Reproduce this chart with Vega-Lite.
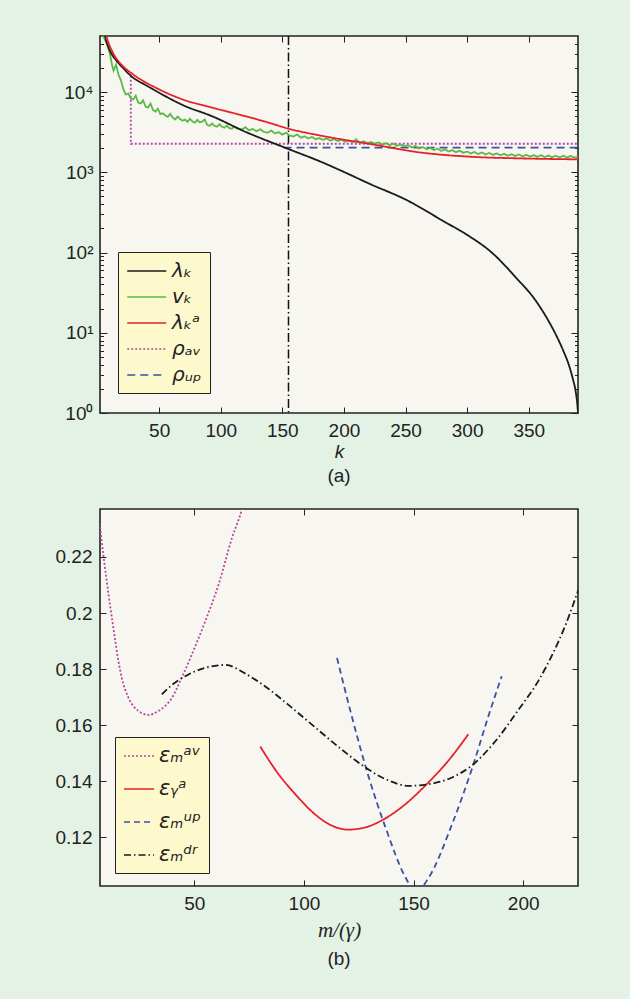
{
  "$schema": "https://vega.github.io/schema/vega-lite/v6.json",
  "background": "#e4f2e6",
  "padding": {"left": 54, "top": 33, "right": 50, "bottom": 39},
  "datasets": {
    "a_rule": [{"k": 155}],
    "a_main": [
      {"k": 2, "v": 100000, "s": "λₖ"},{"k": 3, "v": 85000, "s": "λₖ"},{"k": 6, "v": 50000, "s": "λₖ"},{"k": 10, "v": 33000, "s": "λₖ"},{"k": 15, "v": 25000, "s": "λₖ"},{"k": 20, "v": 20500, "s": "λₖ"},{"k": 28, "v": 15500, "s": "λₖ"},{"k": 40, "v": 12000, "s": "λₖ"},{"k": 50, "v": 9800, "s": "λₖ"},{"k": 70, "v": 6800, "s": "λₖ"},{"k": 93, "v": 5000, "s": "λₖ"},{"k": 120, "v": 3200, "s": "λₖ"},{"k": 155, "v": 1950, "s": "λₖ"},{"k": 182, "v": 1340, "s": "λₖ"},{"k": 200, "v": 1010, "s": "λₖ"},{"k": 222, "v": 706, "s": "λₖ"},{"k": 250, "v": 458, "s": "λₖ"},{"k": 282, "v": 240, "s": "λₖ"},{"k": 300, "v": 166, "s": "λₖ"},{"k": 320, "v": 100, "s": "λₖ"},{"k": 340, "v": 48, "s": "λₖ"},{"k": 355, "v": 26, "s": "λₖ"},{"k": 365, "v": 15, "s": "λₖ"},{"k": 372, "v": 9.5, "s": "λₖ"},{"k": 378, "v": 6, "s": "λₖ"},{"k": 383, "v": 3.8, "s": "λₖ"},{"k": 386, "v": 2.6, "s": "λₖ"},{"k": 388, "v": 1.9, "s": "λₖ"},{"k": 389.5, "v": 1.26, "s": "λₖ"},{"k": 390, "v": 1.0, "s": "λₖ"},
      {"k": 2, "v": 150000, "s": "λₖᵃ"},{"k": 5, "v": 70000, "s": "λₖᵃ"},{"k": 7.5, "v": 48000, "s": "λₖᵃ"},{"k": 12, "v": 32000, "s": "λₖᵃ"},{"k": 20, "v": 21500, "s": "λₖᵃ"},{"k": 28, "v": 17000, "s": "λₖᵃ"},{"k": 50, "v": 10800, "s": "λₖᵃ"},{"k": 70, "v": 8000, "s": "λₖᵃ"},{"k": 93, "v": 6400, "s": "λₖᵃ"},{"k": 112, "v": 5400, "s": "λₖᵃ"},{"k": 139, "v": 4150, "s": "λₖᵃ"},{"k": 155, "v": 3500, "s": "λₖᵃ"},{"k": 182, "v": 2850, "s": "λₖᵃ"},{"k": 223, "v": 2230, "s": "λₖᵃ"},{"k": 263, "v": 1760, "s": "λₖᵃ"},{"k": 304, "v": 1560, "s": "λₖᵃ"},{"k": 344, "v": 1490, "s": "λₖᵃ"},{"k": 390, "v": 1450, "s": "λₖᵃ"}
    ],
    "a_rho": [
      {"k": 27, "v": 16000, "s": "ρₐᵥ"},{"k": 27, "v": 2270, "s": "ρₐᵥ"},{"k": 390, "v": 2270, "s": "ρₐᵥ"},
      {"k": 151, "v": 2030, "s": "ρᵤₚ"},{"k": 390, "v": 2030, "s": "ρᵤₚ"},
      {"k": 2, "v": 62000, "s": "vₖ"},{"k": 4, "v": 52000, "s": "vₖ"},{"k": 6, "v": 45000, "s": "vₖ"},{"k": 8, "v": 38000, "s": "vₖ"},{"k": 10, "v": 30000, "s": "vₖ"},{"k": 12, "v": 21000, "s": "vₖ"},{"k": 13, "v": 18500, "s": "vₖ"},{"k": 15, "v": 22000, "s": "vₖ"},{"k": 17, "v": 16500, "s": "vₖ"},{"k": 19, "v": 14000, "s": "vₖ"},{"k": 21, "v": 10800, "s": "vₖ"},{"k": 23, "v": 9300, "s": "vₖ"},{"k": 25, "v": 9600, "s": "vₖ"},{"k": 27, "v": 8300, "s": "vₖ"},{"k": 29, "v": 8100, "s": "vₖ"},{"k": 31, "v": 9000, "s": "vₖ"},{"k": 33, "v": 7400, "s": "vₖ"},{"k": 35, "v": 7200, "s": "vₖ"},{"k": 37, "v": 7900, "s": "vₖ"},{"k": 39, "v": 6600, "s": "vₖ"},{"k": 41, "v": 6400, "s": "vₖ"},{"k": 43, "v": 7200, "s": "vₖ"},{"k": 45, "v": 6000, "s": "vₖ"},{"k": 47, "v": 5700, "s": "vₖ"},{"k": 49, "v": 6200, "s": "vₖ"},{"k": 51, "v": 5300, "s": "vₖ"},{"k": 53, "v": 5450, "s": "vₖ"},{"k": 55, "v": 5100, "s": "vₖ"},{"k": 57, "v": 4900, "s": "vₖ"},{"k": 59, "v": 5350, "s": "vₖ"},{"k": 61, "v": 4800, "s": "vₖ"},{"k": 63, "v": 4550, "s": "vₖ"},{"k": 65, "v": 4950, "s": "vₖ"},{"k": 67, "v": 4600, "s": "vₖ"},{"k": 69, "v": 4400, "s": "vₖ"},{"k": 71, "v": 4550, "s": "vₖ"},{"k": 73, "v": 4250, "s": "vₖ"},{"k": 75, "v": 4650, "s": "vₖ"},{"k": 77, "v": 4300, "s": "vₖ"},{"k": 79, "v": 4150, "s": "vₖ"},{"k": 81, "v": 4500, "s": "vₖ"},{"k": 83, "v": 4200, "s": "vₖ"},{"k": 85, "v": 4300, "s": "vₖ"},{"k": 87, "v": 4550, "s": "vₖ"},{"k": 89, "v": 3900, "s": "vₖ"},{"k": 91, "v": 3800, "s": "vₖ"},{"k": 93, "v": 4050, "s": "vₖ"},{"k": 95, "v": 3800, "s": "vₖ"},{"k": 97, "v": 3700, "s": "vₖ"},{"k": 99, "v": 3980, "s": "vₖ"},{"k": 101, "v": 3700, "s": "vₖ"},{"k": 103, "v": 3600, "s": "vₖ"},{"k": 105, "v": 3830, "s": "vₖ"},{"k": 107, "v": 3550, "s": "vₖ"},{"k": 109, "v": 3500, "s": "vₖ"},{"k": 111, "v": 3720, "s": "vₖ"},{"k": 113, "v": 3530, "s": "vₖ"},{"k": 115, "v": 3480, "s": "vₖ"},{"k": 117, "v": 3400, "s": "vₖ"},{"k": 120, "v": 3650, "s": "vₖ"},{"k": 123, "v": 3340, "s": "vₖ"},{"k": 126, "v": 3470, "s": "vₖ"},{"k": 129, "v": 3260, "s": "vₖ"},{"k": 132, "v": 3440, "s": "vₖ"},{"k": 135, "v": 3190, "s": "vₖ"},{"k": 138, "v": 3110, "s": "vₖ"},{"k": 141, "v": 3320, "s": "vₖ"},{"k": 144, "v": 3050, "s": "vₖ"},{"k": 147, "v": 3170, "s": "vₖ"},{"k": 150, "v": 2950, "s": "vₖ"},{"k": 153, "v": 3110, "s": "vₖ"},{"k": 156, "v": 2870, "s": "vₖ"},{"k": 159, "v": 2790, "s": "vₖ"},{"k": 162, "v": 2960, "s": "vₖ"},{"k": 165, "v": 2700, "s": "vₖ"},{"k": 168, "v": 2810, "s": "vₖ"},{"k": 171, "v": 2640, "s": "vₖ"},{"k": 174, "v": 2760, "s": "vₖ"},{"k": 177, "v": 2580, "s": "vₖ"},{"k": 180, "v": 2670, "s": "vₖ"},{"k": 183, "v": 2540, "s": "vₖ"},{"k": 186, "v": 2640, "s": "vₖ"},{"k": 189, "v": 2480, "s": "vₖ"},{"k": 192, "v": 2600, "s": "vₖ"},{"k": 195, "v": 2450, "s": "vₖ"},{"k": 198, "v": 2560, "s": "vₖ"},{"k": 201, "v": 2400, "s": "vₖ"},{"k": 204, "v": 2500, "s": "vₖ"},{"k": 207, "v": 2370, "s": "vₖ"},{"k": 210, "v": 2580, "s": "vₖ"},{"k": 213, "v": 2330, "s": "vₖ"},{"k": 216, "v": 2440, "s": "vₖ"},{"k": 219, "v": 2310, "s": "vₖ"},{"k": 222, "v": 2390, "s": "vₖ"},{"k": 225, "v": 2270, "s": "vₖ"},{"k": 228, "v": 2360, "s": "vₖ"},{"k": 231, "v": 2220, "s": "vₖ"},{"k": 234, "v": 2310, "s": "vₖ"},{"k": 237, "v": 2180, "s": "vₖ"},{"k": 240, "v": 2280, "s": "vₖ"},{"k": 243, "v": 2140, "s": "vₖ"},{"k": 246, "v": 2220, "s": "vₖ"},{"k": 249, "v": 2100, "s": "vₖ"},{"k": 252, "v": 2180, "s": "vₖ"},{"k": 255, "v": 2040, "s": "vₖ"},{"k": 258, "v": 2130, "s": "vₖ"},{"k": 261, "v": 1980, "s": "vₖ"},{"k": 264, "v": 2070, "s": "vₖ"},{"k": 267, "v": 1940, "s": "vₖ"},{"k": 270, "v": 2010, "s": "vₖ"},{"k": 273, "v": 1900, "s": "vₖ"},{"k": 276, "v": 1970, "s": "vₖ"},{"k": 279, "v": 1850, "s": "vₖ"},{"k": 282, "v": 1930, "s": "vₖ"},{"k": 285, "v": 1820, "s": "vₖ"},{"k": 288, "v": 1890, "s": "vₖ"},{"k": 291, "v": 1780, "s": "vₖ"},{"k": 294, "v": 1860, "s": "vₖ"},{"k": 297, "v": 1750, "s": "vₖ"},{"k": 300, "v": 1820, "s": "vₖ"},{"k": 303, "v": 1720, "s": "vₖ"},{"k": 306, "v": 1790, "s": "vₖ"},{"k": 309, "v": 1690, "s": "vₖ"},{"k": 312, "v": 1770, "s": "vₖ"},{"k": 315, "v": 1670, "s": "vₖ"},{"k": 318, "v": 1740, "s": "vₖ"},{"k": 321, "v": 1650, "s": "vₖ"},{"k": 324, "v": 1720, "s": "vₖ"},{"k": 327, "v": 1630, "s": "vₖ"},{"k": 330, "v": 1700, "s": "vₖ"},{"k": 333, "v": 1610, "s": "vₖ"},{"k": 336, "v": 1680, "s": "vₖ"},{"k": 339, "v": 1600, "s": "vₖ"},{"k": 342, "v": 1670, "s": "vₖ"},{"k": 345, "v": 1580, "s": "vₖ"},{"k": 348, "v": 1650, "s": "vₖ"},{"k": 351, "v": 1570, "s": "vₖ"},{"k": 354, "v": 1640, "s": "vₖ"},{"k": 357, "v": 1560, "s": "vₖ"},{"k": 360, "v": 1630, "s": "vₖ"},{"k": 363, "v": 1550, "s": "vₖ"},{"k": 366, "v": 1620, "s": "vₖ"},{"k": 369, "v": 1540, "s": "vₖ"},{"k": 372, "v": 1610, "s": "vₖ"},{"k": 375, "v": 1530, "s": "vₖ"},{"k": 378, "v": 1610, "s": "vₖ"},{"k": 381, "v": 1530, "s": "vₖ"},{"k": 384, "v": 1600, "s": "vₖ"},{"k": 387, "v": 1520, "s": "vₖ"},{"k": 390, "v": 1570, "s": "vₖ"}
    ],
    "b1": [
      {"m": 6.8, "e": 0.2321, "s": "εₘᵃᵛ"},{"m": 8.6, "e": 0.2203, "s": "εₘᵃᵛ"},{"m": 10.9, "e": 0.2066, "s": "εₘᵃᵛ"},{"m": 13.1, "e": 0.1947, "s": "εₘᵃᵛ"},{"m": 15.4, "e": 0.1829, "s": "εₘᵃᵛ"},{"m": 16.9, "e": 0.177, "s": "εₘᵃᵛ"},{"m": 20, "e": 0.1698, "s": "εₘᵃᵛ"},{"m": 24.5, "e": 0.1651, "s": "εₘᵃᵛ"},{"m": 29.1, "e": 0.1637, "s": "εₘᵃᵛ"},{"m": 33.7, "e": 0.1651, "s": "εₘᵃᵛ"},{"m": 39.8, "e": 0.1698, "s": "εₘᵃᵛ"},{"m": 44.3, "e": 0.177, "s": "εₘᵃᵛ"},{"m": 48.5, "e": 0.1845, "s": "εₘᵃᵛ"},{"m": 55, "e": 0.1971, "s": "εₘᵃᵛ"},{"m": 61.1, "e": 0.2102, "s": "εₘᵃᵛ"},{"m": 67.2, "e": 0.2268, "s": "εₘᵃᵛ"},{"m": 71.7, "e": 0.2369, "s": "εₘᵃᵛ"},{"m": 72.5, "e": 0.2392, "s": "εₘᵃᵛ"},
      {"m": 80.1, "e": 0.1524, "s": "εᵧᵃ"},{"m": 88, "e": 0.143, "s": "εᵧᵃ"},{"m": 96, "e": 0.1355, "s": "εᵧᵃ"},{"m": 104, "e": 0.129, "s": "εᵧᵃ"},{"m": 112, "e": 0.1245, "s": "εᵧᵃ"},{"m": 120, "e": 0.1228, "s": "εᵧᵃ"},{"m": 128, "e": 0.1236, "s": "εᵧᵃ"},{"m": 136, "e": 0.1263, "s": "εᵧᵃ"},{"m": 146, "e": 0.1317, "s": "εᵧᵃ"},{"m": 156, "e": 0.139, "s": "εᵧᵃ"},{"m": 166, "e": 0.1475, "s": "εᵧᵃ"},{"m": 175, "e": 0.1568, "s": "εᵧᵃ"}
    ],
    "b2": [
      {"m": 115.1, "e": 0.184, "s": "εₘᵘᵖ"},{"m": 122, "e": 0.1627, "s": "εₘᵘᵖ"},{"m": 129.6, "e": 0.1414, "s": "εₘᵘᵖ"},{"m": 137.2, "e": 0.1236, "s": "εₘᵘᵖ"},{"m": 146.3, "e": 0.1058, "s": "εₘᵘᵖ"},{"m": 151, "e": 0.1005, "s": "εₘᵘᵖ"},{"m": 157, "e": 0.1058, "s": "εₘᵘᵖ"},{"m": 167.6, "e": 0.1248, "s": "εₘᵘᵖ"},{"m": 176.8, "e": 0.1449, "s": "εₘᵘᵖ"},{"m": 184.4, "e": 0.1639, "s": "εₘᵘᵖ"},{"m": 190.2, "e": 0.1775, "s": "εₘᵘᵖ"},
      {"m": 35.2, "e": 0.171, "s": "εₘᵈʳ"},{"m": 40, "e": 0.1745, "s": "εₘᵈʳ"},{"m": 45.9, "e": 0.1775, "s": "εₘᵈʳ"},{"m": 55, "e": 0.1805, "s": "εₘᵈʳ"},{"m": 64.2, "e": 0.1815, "s": "εₘᵈʳ"},{"m": 73.3, "e": 0.1784, "s": "εₘᵈʳ"},{"m": 82.4, "e": 0.1738, "s": "εₘᵈʳ"},{"m": 94.6, "e": 0.1662, "s": "εₘᵈʳ"},{"m": 105.2, "e": 0.1592, "s": "εₘᵈʳ"},{"m": 115.9, "e": 0.1522, "s": "εₘᵈʳ"},{"m": 126.5, "e": 0.1458, "s": "εₘᵈʳ"},{"m": 137.2, "e": 0.1408, "s": "εₘᵈʳ"},{"m": 147.9, "e": 0.1384, "s": "εₘᵈʳ"},{"m": 157, "e": 0.139, "s": "εₘᵈʳ"},{"m": 167.6, "e": 0.1414, "s": "εₘᵈʳ"},{"m": 176.8, "e": 0.1458, "s": "εₘᵈʳ"},{"m": 187.4, "e": 0.1544, "s": "εₘᵈʳ"},{"m": 198.1, "e": 0.1658, "s": "εₘᵈʳ"},{"m": 207.2, "e": 0.1762, "s": "εₘᵈʳ"},{"m": 213.3, "e": 0.1852, "s": "εₘᵈʳ"},{"m": 219.4, "e": 0.1959, "s": "εₘᵈʳ"},{"m": 224.7, "e": 0.2072, "s": "εₘᵈʳ"},{"m": 226, "e": 0.21, "s": "εₘᵈʳ"}
    ]
  },
  "vconcat": [
    {
      "width": 478,
      "height": 377,
      "title": {"text": "(a)", "orient": "bottom", "offset": 6},
      "layer": [
        {
          "data": {"name": "a_rule"},
          "mark": {"type": "rule", "color": "#111", "strokeWidth": 1.5, "strokeDash": [9, 3, 1.5, 3]},
          "encoding": {
            "x": {"field": "k", "type": "quantitative", "scale": {"domain": [2, 390], "nice": false, "zero": false},
              "axis": {"orient": "top", "values": [50, 100, 150, 200, 250, 300, 350], "labels": false, "title": null}}
          }
        },
        {
          "data": {"name": "a_rho"},
          "mark": {"type": "line", "strokeWidth": 1.8, "clip": true},
          "encoding": {
            "x": {"field": "k", "type": "quantitative", "axis": null},
            "y": {"field": "v", "type": "quantitative", "scale": {"type": "log", "domain": [1, 50000], "nice": false},
              "axis": {"orient": "right", "labels": false, "title": null,
                "values": [1,2,3,4,5,6,7,8,9,10,20,30,40,50,60,70,80,90,100,200,300,400,500,600,700,800,900,1000,2000,3000,4000,5000,6000,7000,8000,9000,10000,20000,30000,40000],
                "tickSize": {"condition": {"test": "indexof([1,10,100,1000,10000], datum.value) >= 0", "value": -7}, "value": -3.5}}},
            "color": {"field": "s", "type": "nominal",
              "scale": {"domain": ["λₖ", "vₖ", "λₖᵃ", "ρₐᵥ", "ρᵤₚ"], "range": ["#1a1a1a", "#5cb946", "#e8202a", "#b548a2", "#3852a4"]},
              "legend": {"orient": "none", "legendX": 18, "legendY": 216, "title": null, "symbolType": "M-1,0H3", "symbolSize": 380, "symbolStrokeWidth": 1.6, "labelFontSize": 20, "labelFont": "DejaVu Sans", "labelFontStyle": "italic", "labelColor": "#222", "fillColor": "#fdf9cc", "strokeColor": "#222", "padding": 8, "rowPadding": 5, "labelOffset": 24}},
            "strokeDash": {"field": "s", "type": "nominal",
              "scale": {"domain": ["λₖ", "vₖ", "λₖᵃ", "ρₐᵥ", "ρᵤₚ"], "range": [[1, 0], [1, 0], [1, 0], [2, 2], [8, 5]]},
              "legend": {"orient": "none", "legendX": 18, "legendY": 216, "title": null, "symbolType": "M-1,0H3", "symbolSize": 380, "symbolStrokeWidth": 1.6, "labelFontSize": 20, "labelFont": "DejaVu Sans", "labelFontStyle": "italic", "labelColor": "#222", "fillColor": "#fdf9cc", "strokeColor": "#222", "padding": 8, "rowPadding": 5, "labelOffset": 24}}
          }
        },
        {
          "data": {"name": "a_main"},
          "mark": {"type": "line", "strokeWidth": 1.8, "clip": true, "interpolate": "monotone"},
          "encoding": {
            "x": {"field": "k", "type": "quantitative", "scale": {"domain": [2, 390], "nice": false, "zero": false},
              "axis": {"orient": "bottom", "values": [50, 100, 150, 200, 250, 300, 350], "title": "k", "titleFontStyle": "italic"}},
            "y": {"field": "v", "type": "quantitative", "scale": {"type": "log", "domain": [1, 50000], "nice": false},
              "axis": {"orient": "left", "title": null, "labelOverlap": false, "labelFlush": false,
                "values": [1,2,3,4,5,6,7,8,9,10,20,30,40,50,60,70,80,90,100,200,300,400,500,600,700,800,900,1000,2000,3000,4000,5000,6000,7000,8000,9000,10000,20000,30000,40000],
                "labelExpr": "datum.value==1?'10⁰':datum.value==10?'10¹':datum.value==100?'10²':datum.value==1000?'10³':datum.value==10000?'10⁴':''",
                "tickSize": {"condition": {"test": "indexof([1,10,100,1000,10000], datum.value) >= 0", "value": -7}, "value": -3.5}}},
            "color": {"field": "s", "type": "nominal",
              "scale": {"domain": ["λₖ", "vₖ", "λₖᵃ", "ρₐᵥ", "ρᵤₚ"], "range": ["#1a1a1a", "#5cb946", "#e8202a", "#b548a2", "#3852a4"]},
              "legend": {"orient": "none", "legendX": 18, "legendY": 216, "title": null, "symbolType": "M-1,0H3", "symbolSize": 380, "symbolStrokeWidth": 1.6, "labelFontSize": 20, "labelFont": "DejaVu Sans", "labelFontStyle": "italic", "labelColor": "#222", "fillColor": "#fdf9cc", "strokeColor": "#222", "padding": 8, "rowPadding": 5, "labelOffset": 24}},
            "strokeDash": {"field": "s", "type": "nominal",
              "scale": {"domain": ["λₖ", "vₖ", "λₖᵃ", "ρₐᵥ", "ρᵤₚ"], "range": [[1, 0], [1, 0], [1, 0], [2, 2], [8, 5]]},
              "legend": {"orient": "none", "legendX": 18, "legendY": 216, "title": null, "symbolType": "M-1,0H3", "symbolSize": 380, "symbolStrokeWidth": 1.6, "labelFontSize": 20, "labelFont": "DejaVu Sans", "labelFontStyle": "italic", "labelColor": "#222", "fillColor": "#fdf9cc", "strokeColor": "#222", "padding": 8, "rowPadding": 5, "labelOffset": 24}}
          }
        }
      ]
    },
    {
      "width": 478,
      "height": 377,
      "title": {"text": "(b)", "orient": "bottom", "offset": 10},
      "layer": [
        {
          "data": {"name": "b1"},
          "mark": {"type": "line", "strokeWidth": 1.8, "clip": true, "interpolate": "monotone"},
          "encoding": {
            "x": {"field": "m", "type": "quantitative", "scale": {"domain": [7, 225], "nice": false, "zero": false},
              "axis": {"orient": "bottom", "values": [50, 100, 150, 200], "title": "m/(γ)", "titleFont": "Liberation Serif", "titleFontStyle": "italic", "titleFontSize": 21, "titlePadding": 6}},
            "y": {"field": "e", "type": "quantitative", "scale": {"domain": [0.1027, 0.2371], "nice": false, "zero": false},
              "axis": {"orient": "left", "title": null, "values": [0.12, 0.14, 0.16, 0.18, 0.2, 0.22], "format": ".2~f"}},
            "color": {"field": "s", "type": "nominal",
              "scale": {"domain": ["εₘᵃᵛ", "εᵧᵃ", "εₘᵘᵖ", "εₘᵈʳ"], "range": ["#b548a2", "#e8202a", "#3852a4", "#1a1a1a"]},
              "legend": {"orient": "none", "legendX": 15, "legendY": 228, "title": null, "symbolType": "M-1,0H2", "symbolSize": 400, "symbolStrokeWidth": 1.6, "labelFontSize": 21, "labelFont": "DejaVu Sans", "labelFontStyle": "italic", "labelColor": "#222", "fillColor": "#fdf9cc", "strokeColor": "#222", "padding": 8, "rowPadding": 12, "labelOffset": 14}},
            "strokeDash": {"field": "s", "type": "nominal",
              "scale": {"domain": ["εₘᵃᵛ", "εᵧᵃ", "εₘᵘᵖ", "εₘᵈʳ"], "range": [[2, 2], [1, 0], [6, 4], [7, 3, 1.5, 3]]},
              "legend": {"orient": "none", "legendX": 15, "legendY": 228, "title": null, "symbolType": "M-1,0H2", "symbolSize": 400, "symbolStrokeWidth": 1.6, "labelFontSize": 21, "labelFont": "DejaVu Sans", "labelFontStyle": "italic", "labelColor": "#222", "fillColor": "#fdf9cc", "strokeColor": "#222", "padding": 8, "rowPadding": 12, "labelOffset": 14}}
          }
        },
        {
          "data": {"name": "b2"},
          "mark": {"type": "line", "strokeWidth": 1.8, "clip": true, "interpolate": "monotone"},
          "encoding": {
            "x": {"field": "m", "type": "quantitative", "scale": {"domain": [7, 225], "nice": false, "zero": false},
              "axis": {"orient": "top", "values": [50, 100, 150, 200], "labels": false, "title": null}},
            "y": {"field": "e", "type": "quantitative", "scale": {"domain": [0.1027, 0.2371], "nice": false, "zero": false},
              "axis": {"orient": "right", "title": null, "labels": false, "values": [0.12, 0.14, 0.16, 0.18, 0.2, 0.22]}},
            "color": {"field": "s", "type": "nominal",
              "scale": {"domain": ["εₘᵃᵛ", "εᵧᵃ", "εₘᵘᵖ", "εₘᵈʳ"], "range": ["#b548a2", "#e8202a", "#3852a4", "#1a1a1a"]},
              "legend": {"orient": "none", "legendX": 15, "legendY": 228, "title": null, "symbolType": "M-1,0H2", "symbolSize": 400, "symbolStrokeWidth": 1.6, "labelFontSize": 21, "labelFont": "DejaVu Sans", "labelFontStyle": "italic", "labelColor": "#222", "fillColor": "#fdf9cc", "strokeColor": "#222", "padding": 8, "rowPadding": 12, "labelOffset": 14}},
            "strokeDash": {"field": "s", "type": "nominal",
              "scale": {"domain": ["εₘᵃᵛ", "εᵧᵃ", "εₘᵘᵖ", "εₘᵈʳ"], "range": [[2, 2], [1, 0], [6, 4], [7, 3, 1.5, 3]]},
              "legend": {"orient": "none", "legendX": 15, "legendY": 228, "title": null, "symbolType": "M-1,0H2", "symbolSize": 400, "symbolStrokeWidth": 1.6, "labelFontSize": 21, "labelFont": "DejaVu Sans", "labelFontStyle": "italic", "labelColor": "#222", "fillColor": "#fdf9cc", "strokeColor": "#222", "padding": 8, "rowPadding": 12, "labelOffset": 14}}
          }
        }
      ]
    }
  ],
  "spacing": 20,
  "resolve": {"scale": {"color": "independent", "strokeDash": "independent", "x": "independent", "y": "independent"}, "legend": {"color": "independent", "strokeDash": "independent"}},
  "config": {
    "view": {"fill": "#f7f6f1", "stroke": "#222", "strokeWidth": 1.6},
    "axis": {"domain": false, "grid": false, "tickColor": "#222", "tickWidth": 1, "tickSize": -6, "labelPadding": 14, "labelColor": "#222", "labelFont": "Liberation Sans", "labelFontSize": 19, "titleFont": "Liberation Sans", "titleFontSize": 19, "titleFontWeight": "normal", "titleColor": "#222", "titlePadding": 2, "labelFlush": false},
    "title": {"font": "Liberation Sans", "fontSize": 19, "fontWeight": "normal", "color": "#222"}
  }
}
